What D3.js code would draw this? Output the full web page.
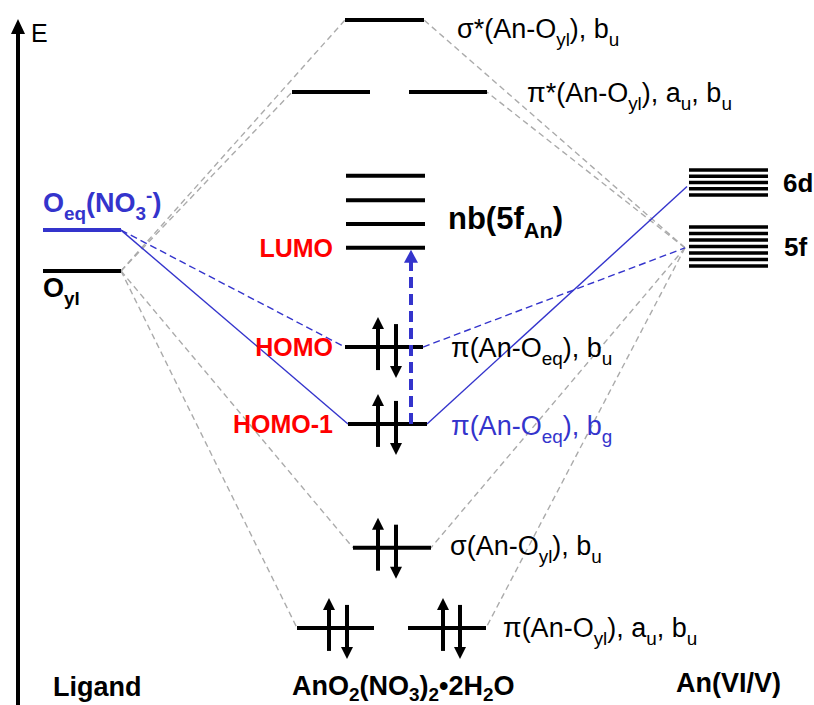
<!DOCTYPE html>
<html>
<head>
<meta charset="utf-8">
<script src="https://cdn.jsdelivr.net/npm/d3@7"></script>
<style>
  html, body { margin: 0; padding: 0; background: #fff; }
  svg { display: block; }
  text { font-family: "Liberation Sans", Arial, sans-serif; }
</style>
</head>
<body>
<svg id="chart" width="814" height="705"></svg>
<script>
// ---------------- DATA (energies in arbitrary units) ----------------
const ligandNames    = ["Oeq", "Oyl"];
const ligandEnergies = [69.1, 63.1];

const moNames    = ["sigmaStar", "piStar", "nb1", "nb2", "nb3", "LUMO", "HOMO", "HOMO1", "sigma", "pi"];
const moEnergies = [100, 89.4, 77.1, 73.5, 70.0, 66.5, 51.9, 40.6, 22.4, 10.6];
const moElectrons = [0, 0, 0, 0, 0, 0, 2, 2, 2, 2];
const moDegeneracy = [1, 2, 1, 1, 1, 1, 1, 1, 1, 2];

const metal6dEnergies = [77.94, 77.02, 76.10, 75.18, 74.26];
const metal5fEnergies = [69.56, 68.60, 67.65, 66.69, 65.74, 64.78, 63.82];
const metal5fJoin = 66.5;
const metal6dJoin = 75.5;

const columnLabels = ["Ligand", "AnO2(NO3)2•2H2O", "An(VI/V)"];
const redLabels = ["LUMO", "HOMO", "HOMO-1"];

// ---------------- LAYOUT ----------------
const W = 814, H = 705;
const svg = d3.select("#chart");
const y = d3.scaleLinear().domain([0, 100]).range([700, 20]);
const x = d3.scaleLinear().domain([0, 814]).range([0, 814]);
const BLUE = "#3434cc";
const GRAY = "#ababab";

const moX = {
  sigmaStar: [[345, 424]],
  piStar: [[292, 370], [409, 487]],
  nb1: [[346, 425]], nb2: [[346, 425]], nb3: [[346, 425]], LUMO: [[346, 425]],
  HOMO: [[345, 423]],
  HOMO1: [[348, 427]],
  sigma: [[353, 431]],
  pi: [[297, 374], [408, 486]]
};
const electronX = {
  HOMO: [[378, 396]], HOMO1: [[378, 396]], sigma: [[378, 396]],
  pi: [[329, 347], [443, 460]]
};
const ligX = [43, 121];
const metalX = [689, 768];
const metalJoinX = 685;

const E = {};
moNames.forEach((n, i) => E[n] = moEnergies[i]);

function rich(px, py, parts, fs, opts = {}) {
  const subShift = opts.subShift != null ? opts.subShift : 0.3;
  const t = svg.append("text")
    .attr("x", px).attr("y", py)
    .attr("font-size", fs)
    .attr("font-weight", opts.bold ? "bold" : "normal")
    .attr("fill", opts.color || "#000")
    .attr("text-anchor", opts.anchor || "start");
  let shift = 0;
  parts.forEach(p => {
    const s = typeof p === "string" ? p : p[0];
    const type = typeof p === "string" ? null : p[1];
    const target = type === "sub" ? subShift * fs : type === "sup" ? -0.38 * fs : 0;
    const ts = t.append("tspan").text(s).attr("dy", target - shift);
    if (type) ts.attr("font-size", fs * 0.7);
    shift = target;
  });
  return t;
}

// gray dashed correlation lines
const gray = svg.append("g").attr("stroke", GRAY).attr("stroke-width", 1.4)
  .attr("stroke-dasharray", "6,4").attr("fill", "none");
["sigmaStar", "piStar", "sigma", "pi"].forEach(n => {
  const segs = moX[n];
  gray.append("line")
    .attr("x1", x(ligX[1])).attr("y1", y(ligandEnergies[1]))
    .attr("x2", x(segs[0][0])).attr("y2", y(E[n]));
  gray.append("line")
    .attr("x1", x(metalJoinX)).attr("y1", y(metal5fJoin))
    .attr("x2", x(segs[segs.length - 1][1])).attr("y2", y(E[n]));
});

// blue correlation lines
const blueG = svg.append("g").attr("stroke", BLUE).attr("stroke-width", 1.4).attr("fill", "none");
blueG.append("line").attr("x1", x(ligX[1])).attr("y1", y(ligandEnergies[0]))
  .attr("x2", x(moX.HOMO1[0][0])).attr("y2", y(E.HOMO1));
blueG.append("line").attr("x1", x(moX.HOMO1[0][1])).attr("y1", y(E.HOMO1))
  .attr("x2", x(metalJoinX + 2)).attr("y2", y(metal6dJoin));
blueG.append("line").attr("x1", x(ligX[1])).attr("y1", y(ligandEnergies[0]))
  .attr("x2", x(moX.HOMO[0][0])).attr("y2", y(E.HOMO)).attr("stroke-dasharray", "7,4");
blueG.append("line").attr("x1", x(moX.HOMO[0][1])).attr("y1", y(E.HOMO))
  .attr("x2", x(metalJoinX)).attr("y2", y(metal5fJoin)).attr("stroke-dasharray", "7,4");

// energy axis
svg.append("line").attr("x1", 18).attr("x2", 18).attr("y1", H).attr("y2", 32)
  .attr("stroke", "#000").attr("stroke-width", 4);
svg.append("path").attr("d", "M18,19 L25,34 L11,34 Z").attr("fill", "#000");
svg.append("text").attr("x", 31).attr("y", 42).attr("font-size", 25).text("E");

// ligand levels
svg.append("line").attr("x1", x(ligX[0])).attr("x2", x(ligX[1]))
  .attr("y1", y(ligandEnergies[0])).attr("y2", y(ligandEnergies[0]))
  .attr("stroke", BLUE).attr("stroke-width", 4);
svg.append("line").attr("x1", x(ligX[0])).attr("x2", x(ligX[1]))
  .attr("y1", y(ligandEnergies[1])).attr("y2", y(ligandEnergies[1]))
  .attr("stroke", "#000").attr("stroke-width", 4);
rich(43, 212, ["O", ["eq", "sub"], "(NO", ["3", "sub"], ["-", "sup"], ")"], 27, { bold: true, color: BLUE });
rich(43, 297, ["O", ["yl", "sub"]], 27, { bold: true });

// MO levels
const lv = svg.append("g").attr("stroke", "#000").attr("stroke-width", 4);
moNames.forEach(n => {
  moX[n].forEach(s => {
    lv.append("line").attr("x1", x(s[0])).attr("x2", x(s[1]))
      .attr("y1", y(E[n])).attr("y2", y(E[n]));
  });
});

// metal levels
const ml = svg.append("g").attr("stroke", "#000").attr("stroke-width", 3.4);
metal6dEnergies.concat(metal5fEnergies).forEach(e => {
  ml.append("line").attr("x1", x(metalX[0])).attr("x2", x(metalX[1]))
    .attr("y1", y(e)).attr("y2", y(e));
});
svg.append("text").attr("x", 783).attr("y", 192).attr("font-size", 26).attr("font-weight", "bold").text("6d");
svg.append("text").attr("x", 784).attr("y", 256).attr("font-size", 26).attr("font-weight", "bold").text("5f");

// electron arrows
const ea = svg.append("g");
function arrow(cx, yTail, yTip) {
  const dir = yTip < yTail ? -1 : 1;
  const hl = 12, hw = 6;
  ea.append("line").attr("x1", cx).attr("x2", cx).attr("y1", yTail).attr("y2", yTip - dir * hl + dir * 1)
    .attr("stroke", "#000").attr("stroke-width", 4);
  ea.append("path").attr("d", `M${cx},${yTip} L${cx + hw},${yTip - dir * hl} L${cx - hw},${yTip - dir * hl} Z`)
    .attr("fill", "#000");
}
moNames.forEach((n, i) => {
  if (moElectrons[i] === 2) {
    const yy = y(E[n]);
    electronX[n].forEach(p => {
      arrow(p[0], yy + 23, yy - 30);
      arrow(p[1], yy - 23, yy + 31);
    });
  }
});

// excitation arrow
const exX = 411;
svg.append("line").attr("x1", exX).attr("x2", exX)
  .attr("y1", y(E.HOMO1)).attr("y2", y(E.LUMO) + 13)
  .attr("stroke", BLUE).attr("stroke-width", 4).attr("stroke-dasharray", "11,6");
svg.append("path").attr("d", `M${exX},${y(E.LUMO) + 2} L${exX + 7},${y(E.LUMO) + 15} L${exX - 7},${y(E.LUMO) + 15} Z`)
  .attr("fill", BLUE);

// MO labels
const FS = 27;
rich(457, 38, ["σ*(An-O", ["yl", "sub"], "), b", ["u", "sub"]], FS);
rich(527, 102, ["π*(An-O", ["yl", "sub"], "), a", ["u", "sub"], ", b", ["u", "sub"]], FS);
rich(448, 229, ["nb(5f", ["An", "sub"], ")"], 31, { bold: true });
rich(451, 357, ["π(An-O", ["eq", "sub"], "), b", ["u", "sub"]], FS);
rich(451, 435, ["π(An-O", ["eq", "sub"], "), b", ["g", "sub"]], FS, { color: BLUE });
rich(450, 555, ["σ(An-O", ["yl", "sub"], "), b", ["u", "sub"]], FS);
rich(503, 637, ["π(An-O", ["yl", "sub"], "), a", ["u", "sub"], ", b", ["u", "sub"]], FS);

// red labels
const redY = [E.LUMO, E.HOMO, E.HOMO1];
redLabels.forEach((t, i) => {
  svg.append("text").attr("x", 333).attr("y", y(redY[i]) + 9)
    .attr("text-anchor", "end").attr("font-size", 25).attr("font-weight", "bold")
    .attr("fill", "#ff0000").text(t);
});

// column labels
rich(53, 696, [columnLabels[0]], 27, { bold: true });
rich(292, 695, ["AnO", ["2", "sub"], "(NO", ["3", "sub"], ")", ["2", "sub"], "•2H", ["2", "sub"], "O"], 27, { bold: true, subShift: 0.22 });
rich(676, 692, [columnLabels[2]], 27, { bold: true });
</script>
</body>
</html>
